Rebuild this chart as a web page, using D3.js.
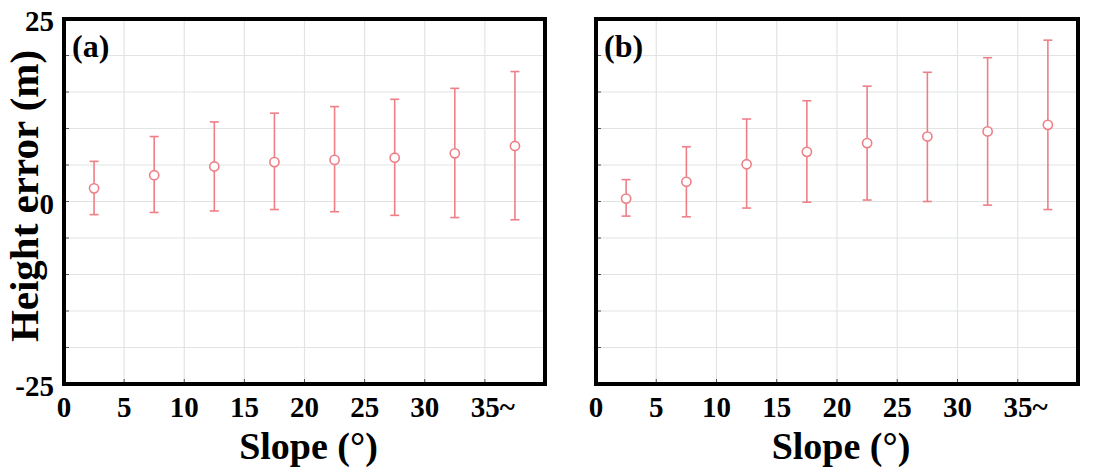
<!DOCTYPE html>
<html>
<head>
<meta charset="utf-8">
<script src="https://cdn.jsdelivr.net/npm/d3@7"></script>
<style>
  body { margin: 0; background: #fff; }
  text { font-family: "Liberation Serif", "Times New Roman", serif; font-weight: bold; fill: #000; }
</style>
</head>
<body>
<svg id="chart" width="1101" height="471"></svg>
<script>
// slope bins (centre of each 5 degree class), last one is 35~
var slopeBins = [2.5, 7.5, 12.5, 17.5, 22.5, 27.5, 32.5, 37.5];
var xTicks = [0, 5, 10, 15, 20, 25, 30, 35];
var xTickLabels = ["0", "5", "10", "15", "20", "25", "30", "35~"];
var yTicks = [-25, -20, -15, -10, -5, 0, 5, 10, 15, 20, 25];
var yTickLabels = ["-25", "0", "25"];

// panel (a)
var aMean  = [1.8, 3.6, 4.8, 5.4, 5.7, 6.0, 6.6, 7.6];
var aUpper = [5.5, 8.9, 10.9, 12.1, 13.0, 14.0, 15.5, 17.8];
var aLower = [-1.8, -1.5, -1.3, -1.1, -1.4, -1.9, -2.2, -2.5];

// panel (b)
var bMean  = [0.4, 2.7, 5.1, 6.8, 8.0, 8.9, 9.6, 10.5];
var bUpper = [3.0, 7.5, 11.3, 13.8, 15.8, 17.7, 19.7, 22.1];
var bLower = [-2.0, -2.1, -0.9, -0.1, 0.2, 0.0, -0.5, -1.1];

var svg = d3.select("#chart");
var red = "#ee7f87";
var plotTop = 19, plotBottom = 384;

var y = d3.scaleLinear()
    .domain([-25, 25])
    .range([plotBottom, plotTop]);

function drawPanel(left, right, mean, upper, lower, letter, showY) {
  var x = d3.scaleLinear()
      .domain([0, 40])
      .range([left, right]);

  var g = svg.append("g");

  // grid
  g.append("g").selectAll("line")
      .data(yTicks.slice(1, -1))
    .enter().append("line")
      .attr("x1", left).attr("x2", right)
      .attr("y1", function(d) { return y(d); })
      .attr("y2", function(d) { return y(d); })
      .attr("stroke", "#e2e4e4")
      .attr("stroke-width", 1.2);

  g.append("g").selectAll("line")
      .data(xTicks.slice(1))
    .enter().append("line")
      .attr("y1", plotTop).attr("y2", plotBottom)
      .attr("x1", function(d) { return x(d); })
      .attr("x2", function(d) { return x(d); })
      .attr("stroke", "#e2e4e4")
      .attr("stroke-width", 1.2);

  // small inner ticks
  g.append("g").selectAll("line")
      .data(yTicks.slice(1, -1))
    .enter().append("line")
      .attr("x1", left).attr("x2", left + 5)
      .attr("y1", function(d) { return y(d); })
      .attr("y2", function(d) { return y(d); })
      .attr("stroke", "#555")
      .attr("stroke-width", 1);

  g.append("g").selectAll("line")
      .data(xTicks.slice(1))
    .enter().append("line")
      .attr("y1", plotBottom).attr("y2", plotBottom - 5)
      .attr("x1", function(d) { return x(d); })
      .attr("x2", function(d) { return x(d); })
      .attr("stroke", "#555")
      .attr("stroke-width", 1);

  // error bars
  var data = slopeBins.map(function(s, i) {
    return { s: s, m: mean[i], hi: upper[i], lo: lower[i] };
  });

  var bar = g.append("g").selectAll("g")
      .data(data)
    .enter().append("g")
      .attr("stroke", red)
      .attr("stroke-width", 1.6)
      .attr("fill", "none");

  bar.append("line")
      .attr("x1", function(d) { return x(d.s); })
      .attr("x2", function(d) { return x(d.s); })
      .attr("y1", function(d) { return y(d.hi); })
      .attr("y2", function(d) { return y(d.lo); });
  bar.append("line")
      .attr("x1", function(d) { return x(d.s) - 4.5; })
      .attr("x2", function(d) { return x(d.s) + 4.5; })
      .attr("y1", function(d) { return y(d.hi); })
      .attr("y2", function(d) { return y(d.hi); });
  bar.append("line")
      .attr("x1", function(d) { return x(d.s) - 4.5; })
      .attr("x2", function(d) { return x(d.s) + 4.5; })
      .attr("y1", function(d) { return y(d.lo); })
      .attr("y2", function(d) { return y(d.lo); });
  bar.append("circle")
      .attr("cx", function(d) { return x(d.s); })
      .attr("cy", function(d) { return y(d.m); })
      .attr("r", 4.6)
      .attr("fill", "#fff");

  // frame
  g.append("rect")
      .attr("x", left).attr("y", plotTop)
      .attr("width", right - left).attr("height", plotBottom - plotTop)
      .attr("fill", "none")
      .attr("stroke", "#000")
      .attr("stroke-width", 4);

  // x tick labels
  g.append("g").selectAll("text")
      .data(xTicks)
    .enter().append("text")
      .attr("x", function(d) { return x(d); })
      .attr("y", 417)
      .attr("text-anchor", "middle")
      .attr("dx", function(d, i) { return xTickLabels[i].indexOf("~") > -1 ? "0.27em" : 0; })
      .style("font-size", "29px")
      .text(function(d, i) { return xTickLabels[i]; });

  // y tick labels
  if (showY) {
    g.append("g").selectAll("text")
        .data(yTickLabels)
      .enter().append("text")
        .attr("x", left - 10)
        .attr("y", function(d) { return y(+d); })
        .attr("dy", "0.42em")
        .attr("text-anchor", "end")
        .style("font-size", "29px")
        .text(function(d) { return d; });
  }

  g.append("text")
      .attr("x", (left + right) / 2 + 4)
      .attr("y", 459)
      .attr("text-anchor", "middle")
      .style("font-size", "38px")
      .text("Slope (°)");

  g.append("text")
      .attr("x", left + 8)
      .attr("y", 57)
      .style("font-size", "32px")
      .text(letter);
}

drawPanel(64, 545, aMean, aUpper, aLower, "(a)", true);
drawPanel(596, 1078, bMean, bUpper, bLower, "(b)", false);

svg.append("text")
    .attr("transform", "translate(38,196) rotate(-90)")
    .attr("text-anchor", "middle")
    .style("font-size", "41px")
    .text("Height error (m)");
</script>
</body>
</html>
